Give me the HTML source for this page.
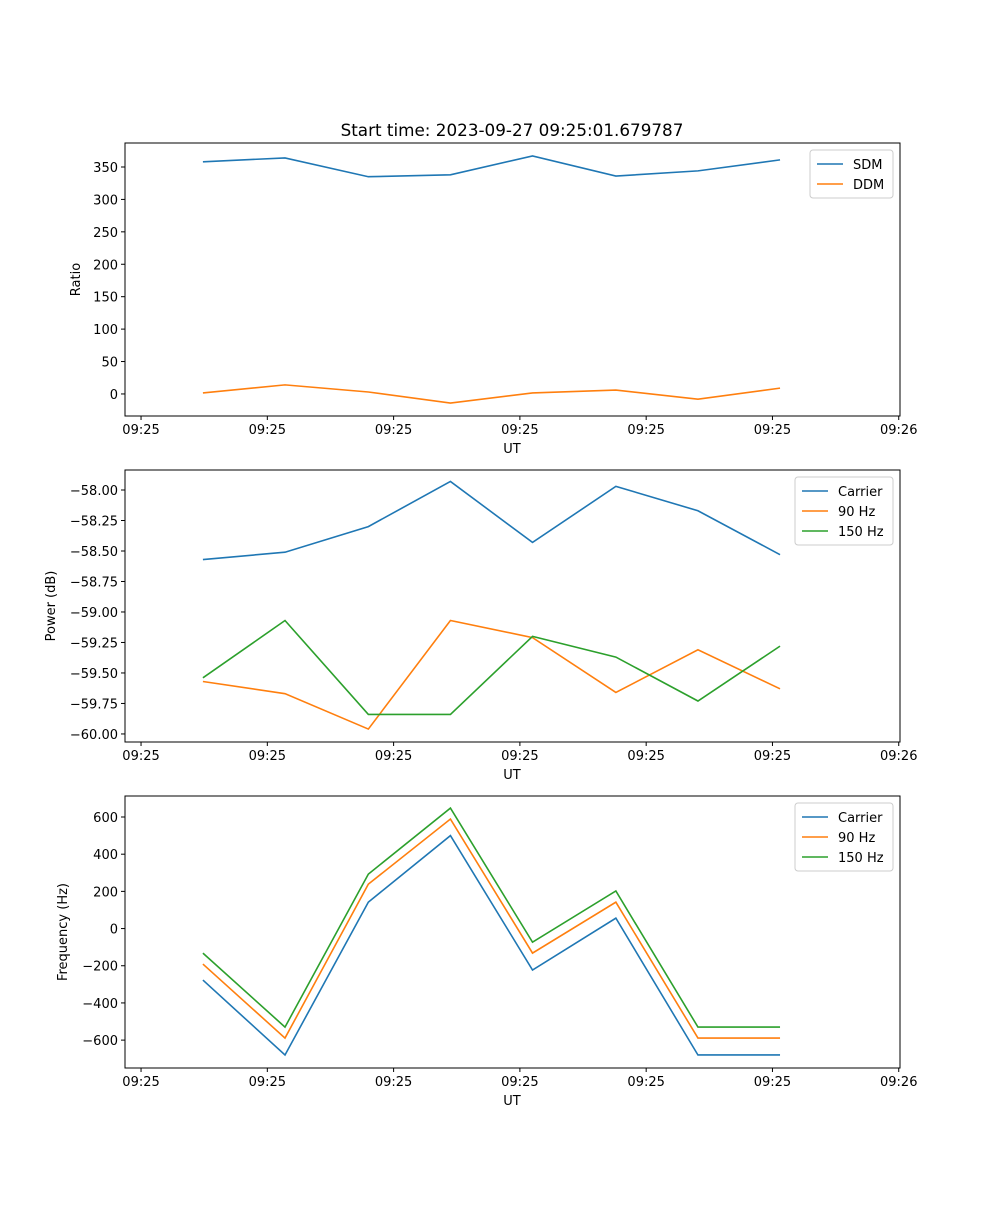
<!DOCTYPE html>
<html><head><meta charset="utf-8"><style>
body{margin:0;background:#fff}
svg{font-family:"DejaVu Sans","Liberation Sans",sans-serif;font-size:13px}
</style></head><body>
<svg id="fig" width="1000" height="1200"></svg>
<script>
const times=[4.9,11.4,18.0,24.5,31.0,37.6,44.1,50.6];
const xTicks=[0,10,20,30,40,50,60];
const xTickLabels=["09:25","09:25","09:25","09:25","09:25","09:25","09:26"];
const sdm=[358,364,335,338,367,336,344,361];
const ddm=[1.5,14,3,-14,1.5,6,-8,9];
const ratioTicks=[0,50,100,150,200,250,300,350];
const pwrCarrier=[-58.57,-58.51,-58.30,-57.93,-58.43,-57.97,-58.17,-58.53];
const pwr90=[-59.57,-59.67,-59.96,-59.07,-59.21,-59.66,-59.31,-59.63];
const pwr150=[-59.54,-59.07,-59.84,-59.84,-59.20,-59.37,-59.73,-59.28];
const pwrTicks=[-60,-59.75,-59.5,-59.25,-59,-58.75,-58.5,-58.25,-58];
const frqCarrier=[-277,-680,142,500,-223,56,-680,-680];
const frq90=[-191,-589,239,589,-132,142,-589,-589];
const frq150=[-132,-530,293,648,-73,202,-530,-530];
const frqTicks=[-600,-400,-200,0,200,400,600];

const NS="http://www.w3.org/2000/svg";
const svg=document.getElementById('fig');
function el(t,a,p){const e=document.createElementNS(NS,t);for(const k in a)e.setAttribute(k,a[k]);(p||svg).appendChild(e);return e;}
const X0=125,X1=900,XMIN=-1.27,XMAX=60.1;
const xs=v=>X0+(v-XMIN)/(XMAX-XMIN)*(X1-X0);
function panel(name,top,bot,ymin,ymax,yticks,fmt,ylabel,series,legendW,title){
  const g=el('g',{});
  
  
  const ys=v=>bot-(v-ymin)/(ymax-ymin)*(bot-top);
  const pl=el('g',{},g);
  
  
  series.forEach(s=>{
    const p=el('polyline',{points:s.v.map((v,i)=>xs(times[i])+','+ys(v)).join(' '),fill:'none',stroke:s.c,'stroke-width':1.6},pl);
    
    
  });
  const fr=el('rect',{x:X0,y:top,width:X1-X0,height:bot-top,fill:'none',stroke:'#000','stroke-width':1},g);
  
  
  xTicks.forEach((t,i)=>{
    const x=xs(t);
    el('line',{x1:x,x2:x,y1:bot,y2:bot+4,stroke:'#000'},g);
    const tx=el('text',{x:x,y:bot+18,'text-anchor':'middle'},g);tx.textContent=xTickLabels[i];
    
    
  });
  yticks.forEach(t=>{
    const y=ys(t);
    el('line',{x1:X0-4,x2:X0,y1:y,y2:y,stroke:'#000'},g);
    const tx=el('text',{x:X0-7,y:y+5,'text-anchor':'end'},g);tx.textContent=fmt(t);
    
    
  });
  const xl=el('text',{x:512,y:bot+37,'text-anchor':'middle'},g);xl.textContent='UT';
  
  
  const lx=ylabel.x, ly=(top+bot)/2;
  const yl=el('text',{x:lx,y:ly,'text-anchor':'middle',transform:`rotate(-90 ${lx} ${ly})`},g);yl.textContent=ylabel.t;
  
  
  if(title){const tt=el('text',{x:512,y:top-7,'text-anchor':'middle','font-size':'16.8px'},g);tt.textContent=title;
    
    }
  const lg=el('g',{},g);
  
  
  const lx0=X1-7-legendW, ly0=top+7;
  el('rect',{x:lx0,y:ly0,width:legendW,height:series.length*20+8,rx:3,fill:'#fff',stroke:'#ccc'},lg);
  series.forEach((s,i)=>{
    const yy=ly0+14+i*20;
    const e=el('g',{},lg);
    
    
    el('line',{x1:lx0+7,x2:lx0+33,y1:yy,y2:yy,stroke:s.c,'stroke-width':1.6},e);
    const t=el('text',{x:lx0+43,y:yy+5},e);t.textContent=s.label;
  });
}
const B='#1f77b4',O='#ff7f0e',G='#2ca02c';
panel('ratio',143,416,-34,387,ratioTicks,v=>String(v),{x:80,t:'Ratio'},
 [{id:'sdm',label:'SDM',v:sdm,c:B},{id:'ddm',label:'DDM',v:ddm,c:O}],83,'Start time: 2023-09-27 09:25:01.679787');
panel('power',470,742,-60.066,-57.836,pwrTicks,v=>'\u2212'+Math.abs(v).toFixed(2),{x:55,t:'Power (dB)'},
 [{id:'carrier',label:'Carrier',v:pwrCarrier,c:B},{id:'90hz',label:'90 Hz',v:pwr90,c:O},{id:'150hz',label:'150 Hz',v:pwr150,c:G}],98);
panel('frequency',796,1068,-750,713,frqTicks,v=>v<0?'\u2212'+Math.abs(v):String(v),{x:67,t:'Frequency (Hz)'},
 [{id:'carrier',label:'Carrier',v:frqCarrier,c:B},{id:'90hz',label:'90 Hz',v:frq90,c:O},{id:'150hz',label:'150 Hz',v:frq150,c:G}],98);
</script>
</body></html>
